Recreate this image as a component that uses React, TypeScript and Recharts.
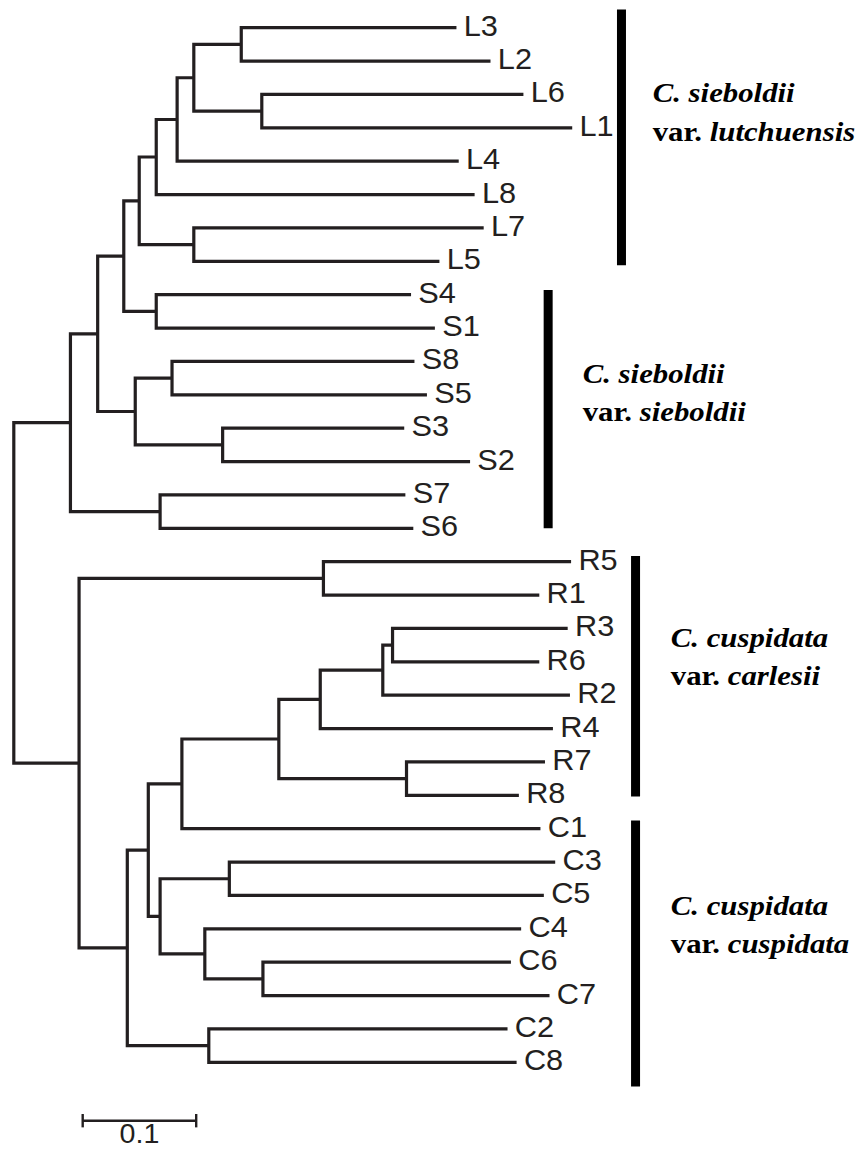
import React from 'react';
import { ScatterChart, Scatter, XAxis, YAxis } from 'recharts';

// ---------- DATA ----------
// Leaves (top to bottom) and their distance from the root (branch-length units)
const LEAF_NAMES = [
  'L3', 'L2', 'L6', 'L1', 'L4', 'L8', 'L7', 'L5',
  'S4', 'S1', 'S8', 'S5', 'S3', 'S2', 'S7', 'S6',
  'R5', 'R1', 'R3', 'R6', 'R2', 'R4', 'R7', 'R8',
  'C1', 'C3', 'C5', 'C4', 'C6', 'C7', 'C2', 'C8',
];
const LEAF_DEPTHS = [
  0.390, 0.420, 0.449, 0.492, 0.392, 0.406, 0.414, 0.375,
  0.350, 0.371, 0.353, 0.364, 0.344, 0.402, 0.345, 0.352,
  0.491, 0.463, 0.488, 0.463, 0.490, 0.475, 0.468, 0.445,
  0.464, 0.477, 0.467, 0.447, 0.438, 0.472, 0.435, 0.443,
];

// Internal nodes (children listed before parents) with their depth from the root
const NODE_IDS = [
  'n1', 'n2', 'n3', 'n4', 'n5', 'n6', 'n7', 'n8', 'n9', 'n10',
  'n11', 'n12', 'n13', 'n14', 'n15', 'n16', 'n17', 'n18', 'n19', 'n20',
  'n21', 'n22', 'n23', 'n24', 'n25', 'n26', 'n27', 'n28', 'n29', 'n30', 'root',
];
const NODE_CHILDREN = [
  ['L3', 'L2'], ['L6', 'L1'], ['n1', 'n2'], ['n3', 'L4'], ['n4', 'L8'],
  ['L7', 'L5'], ['n5', 'n6'], ['S4', 'S1'], ['n7', 'n8'], ['S8', 'S5'],
  ['S3', 'S2'], ['n10', 'n11'], ['n9', 'n12'], ['S7', 'S6'], ['n13', 'n14'],
  ['R5', 'R1'], ['R3', 'R6'], ['n17', 'R2'], ['n18', 'R4'], ['R7', 'R8'],
  ['n19', 'n20'], ['n21', 'C1'], ['C3', 'C5'], ['C6', 'C7'], ['C4', 'n24'],
  ['n23', 'n25'], ['n22', 'n26'], ['C2', 'C8'], ['n27', 'n28'], ['n16', 'n29'],
  ['n15', 'n30'],
];
const NODE_DEPTHS = [
  0.2004, 0.2185, 0.1586, 0.1439, 0.1255,
  0.1586, 0.1105, 0.1255, 0.0969, 0.1394,
  0.1840, 0.1070, 0.0739, 0.1289, 0.0499,
  0.2728, 0.3337, 0.3251, 0.2700, 0.3460,
  0.2335, 0.1481, 0.1899, 0.2195, 0.1683,
  0.1289, 0.1185, 0.1718, 0.1000, 0.0575,
  0,
];

// Groups
const GROUP_TITLES = ['C. sieboldii', 'C. sieboldii', 'C. cuspidata', 'C. cuspidata'];
const GROUP_VARIETIES = ['lutchuensis', 'sieboldii', 'carlesii', 'cuspidata'];

// Scale bar
const SCALE_LENGTH = 0.1;
const SCALE_LABEL = '0.1';

// ---------- LAYOUT ----------
const W = 867;
const H = 1151;
const X_DOMAIN: [number, number] = [-0.012159, 0.751718];
const Y_DOMAIN: [number, number] = [-0.82999, 33.658];
const TREE_COLOR = '#231f20';
const TREE_STROKE = 3.2;

const GROUP_BAR_X = [0.5354, 0.4708, 0.5478, 0.5478];
const GROUP_BAR_TOP = [-0.542, 7.859, 15.83, 23.752];
const GROUP_BAR_BOTTOM = [7.116, 15.0, 23.033, 31.722];
const GROUP_TEXT_X = [0.5629, 0.5012, 0.5788, 0.5788];
const GROUP_TEXT_Y = [2.2353, 10.637, 18.556, 26.586];

const SCALE_X0 = 0.0607;
const SCALE_Y = 32.75;
const SCALE_TICK = 0.2;

// ---------- DERIVED ----------
const depthOf: Record<string, number> = {};
const yOf: Record<string, number> = {};
LEAF_NAMES.forEach((n, i) => {
  depthOf[n] = LEAF_DEPTHS[i];
  yOf[n] = i;
});
NODE_IDS.forEach((id, i) => {
  const [a, b] = NODE_CHILDREN[i];
  depthOf[id] = NODE_DEPTHS[i];
  yOf[id] = (yOf[a] + yOf[b]) / 2;
});

const elbows = NODE_IDS.map((id, i) => {
  const [a, b] = NODE_CHILDREN[i];
  const d = depthOf[id];
  return [
    { x: depthOf[a], y: yOf[a] },
    { x: d, y: yOf[a] },
    { x: d, y: yOf[b] },
    { x: depthOf[b], y: yOf[b] },
  ];
});

const leafPoints = LEAF_NAMES.map((n, i) => ({ x: LEAF_DEPTHS[i], y: i, name: n }));

const groupBars = GROUP_TITLES.map((_, i) => [
  { x: GROUP_BAR_X[i], y: GROUP_BAR_TOP[i] },
  { x: GROUP_BAR_X[i], y: GROUP_BAR_BOTTOM[i] },
]);

const captionPoints = GROUP_TITLES.map((t, i) => ({
  x: GROUP_TEXT_X[i],
  y: GROUP_TEXT_Y[i],
  title: t,
  variety: GROUP_VARIETIES[i],
}));

const scaleBar = [
  { x: SCALE_X0, y: SCALE_Y },
  { x: SCALE_X0 + SCALE_LENGTH, y: SCALE_Y },
];
const scaleTickL = [
  { x: SCALE_X0, y: SCALE_Y - SCALE_TICK },
  { x: SCALE_X0, y: SCALE_Y + SCALE_TICK },
];
const scaleTickR = [
  { x: SCALE_X0 + SCALE_LENGTH, y: SCALE_Y - SCALE_TICK },
  { x: SCALE_X0 + SCALE_LENGTH, y: SCALE_Y + SCALE_TICK },
];
const scaleLabel = [{ x: SCALE_X0 + SCALE_LENGTH / 2, y: SCALE_Y, label: SCALE_LABEL }];

// ---------- SHAPES ----------
const NoShape = () => <g />;

const SANS = "'Liberation Sans', Arial, Helvetica, sans-serif";
const SERIF = "'Liberation Serif', 'Times New Roman', Times, serif";

const LeafLabel = (props: any) => {
  const { cx, cy } = props;
  const name = props.payload?.name ?? props.name;
  return (
    <text
      transform={`translate(${cx + 7.3},${cy + 8}) scale(1.06,1)`}
      fontFamily={SANS}
      fontSize={29}
      fill={TREE_COLOR}
    >
      {name}
    </text>
  );
};

const Caption = (props: any) => {
  const { cx, cy } = props;
  const p = props.payload ?? props;
  return (
    <text
      transform={`translate(${cx},${cy}) scale(1.12,1)`}
      fontFamily={SERIF}
      fontSize={27.5}
      fontWeight="bold"
      fill="#000"
      style={{ whiteSpace: 'pre' }}
    >
      <tspan x={0} y={0} fontStyle="italic">{p.title}</tspan>
      <tspan x={0} y={38.5}>{'var. '}</tspan>
      <tspan fontStyle="italic">{p.variety}</tspan>
    </text>
  );
};

const ScaleLabel = (props: any) => {
  const { cx, cy } = props;
  const label = props.payload?.label ?? props.label;
  return (
    <text
      transform={`translate(${cx},${cy + 22}) scale(1.06,1)`}
      textAnchor="middle"
      fontFamily={SANS}
      fontSize={27}
      fill={TREE_COLOR}
    >
      {label}
    </text>
  );
};

// ---------- CHART ----------
export default function App() {
  return (
    <div style={{ position: 'absolute', left: 0, top: 0, width: W, height: H, background: '#fff' }}>
      <ScatterChart width={W} height={H} margin={{ top: 0, right: 0, bottom: 0, left: 0 }}>
        <XAxis type="number" dataKey="x" domain={X_DOMAIN} allowDataOverflow hide />
        <YAxis type="number" dataKey="y" domain={Y_DOMAIN} allowDataOverflow reversed hide />
        {elbows.map((pts, i) => (
          <Scatter
            key={`elbow-${i}`}
            data={pts}
            fill={TREE_COLOR}
            line={{ stroke: TREE_COLOR, strokeWidth: TREE_STROKE }}
            shape={NoShape}
            isAnimationActive={false}
          />
        ))}
        {groupBars.map((pts, i) => (
          <Scatter
            key={`bar-${i}`}
            data={pts}
            fill="#000"
            line={{ stroke: '#000', strokeWidth: 9 }}
            shape={NoShape}
            isAnimationActive={false}
          />
        ))}
        <Scatter data={leafPoints} fill={TREE_COLOR} shape={LeafLabel} isAnimationActive={false} />
        <Scatter data={captionPoints} fill="#000" shape={Caption} isAnimationActive={false} />
        <Scatter data={scaleBar} fill={TREE_COLOR} line={{ stroke: TREE_COLOR, strokeWidth: 2.4 }} shape={NoShape} isAnimationActive={false} />
        <Scatter data={scaleTickL} fill={TREE_COLOR} line={{ stroke: TREE_COLOR, strokeWidth: 2.4 }} shape={NoShape} isAnimationActive={false} />
        <Scatter data={scaleTickR} fill={TREE_COLOR} line={{ stroke: TREE_COLOR, strokeWidth: 2.4 }} shape={NoShape} isAnimationActive={false} />
        <Scatter data={scaleLabel} fill={TREE_COLOR} shape={ScaleLabel} isAnimationActive={false} />
      </ScatterChart>
    </div>
  );
}
